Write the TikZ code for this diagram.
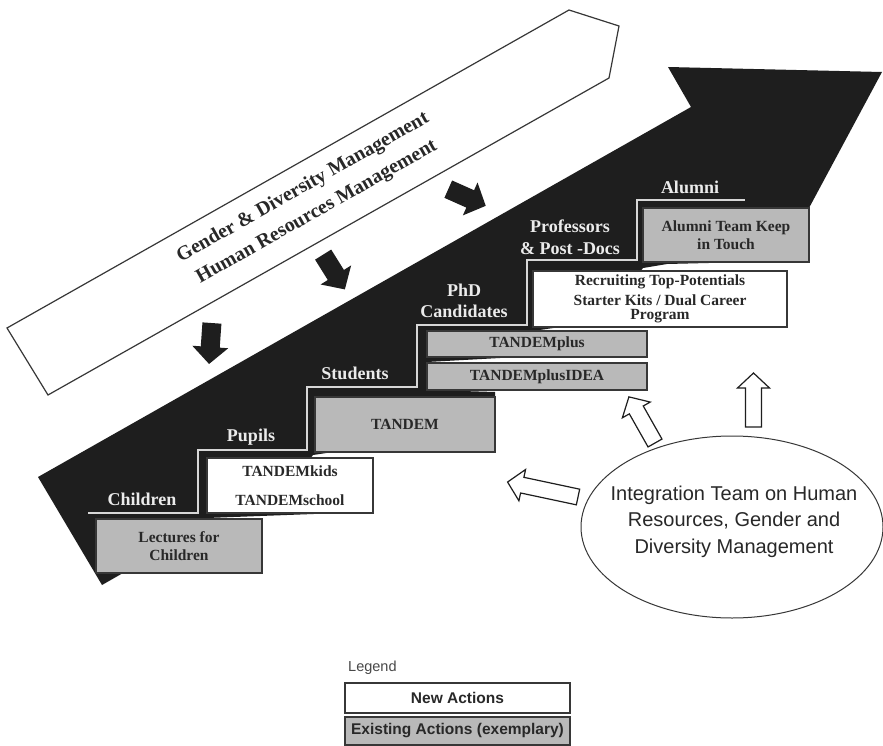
\documentclass[tikz,border=0pt]{standalone}
\usepackage{fontspec}
\setmainfont{Liberation Serif}
\newfontfamily\sansf{Liberation Sans}
\usetikzlibrary{shapes.geometric}
\definecolor{blk}{RGB}{30,30,30}
\definecolor{boxgray}{RGB}{185,185,185}
\definecolor{edge}{RGB}{55,55,55}
\definecolor{txt}{RGB}{40,40,40}
\definecolor{stair}{RGB}{215,215,215}
\definecolor{lbl}{RGB}{235,235,235}
\tikzset{
  actbox/.style={draw=edge, line width=1.6pt, inner sep=0pt, align=center, text=txt,
    font=\bfseries\fontsize{15.5}{18}\selectfont},
  newbox/.style={actbox, fill=white},
  oldbox/.style={actbox, fill=boxgray},
  steplabel/.style={text=lbl, font=\bfseries\fontsize{18}{21.5}\selectfont, align=center, inner sep=0pt},
  stairline/.style={draw=stair, line width=2pt},
  hollowarrow/.style={draw=blk, line width=1.2pt, fill=white, line join=miter},
  pics/solidarr/.style={code={\fill[blk] (-9.5,-20.5) -- (9.5,-20.5) -- (9.5,3.5) -- (18,3.5) -- (0,20.5) -- (-18,3.5) -- (-9.5,3.5) -- cycle;}},
  pics/hollowarr/.style={code={\draw[hollowarrow] (-8,0) -- (-8,-#1+15) -- (-16,-#1+15) -- (0,-#1) -- (16,-#1+15) -- (8,-#1+15) -- (8,0) -- cycle;}},
  legbox/.style={draw=edge, line width=1.5pt, inner sep=0pt, minimum width=225pt, text=txt,
    font=\sansf\bfseries\fontsize{15.5}{18}\selectfont}
}
\begin{document}
\begin{tikzpicture}[x=1pt,y=-1pt]
\useasboundingbox (0,0) rectangle (883,746);
\fill[white] (0,0) rectangle (883,746);

% big black staircase arrow
\fill[blk] (102,585) -- (38,477) -- (691,107) -- (668,67) -- (882,72) -- (809,208)
  -- (750,262) -- (667,264) -- (643,268) -- (640,272) -- (560,327) -- (533,331)
  -- (530,333) -- (500,358) -- (427,362) -- (430,365) -- (430,390) -- (495,392)
  -- (495,398) -- (333,452) -- (313,455) -- (310,459) -- (340,513) -- (207,518)
  -- (210,520) -- (123,573) -- cycle;

% stair line
\draw[stairline] (88,513) -- (198,513) -- (198,450) -- (307,450) -- (307,387)
  -- (417,387) -- (417,325) -- (527,325) -- (527,260) -- (637,260) -- (637,200) -- (745,200);

% action boxes
\node[oldbox, minimum width=166pt, minimum height=54pt] (lectures) at (179,546) {Lectures for\\Children};
\node[newbox, minimum width=166pt, minimum height=55pt] (kids) at (290,485.5) {TANDEMkids\\[11pt]TANDEMschool};
\node[oldbox, minimum width=180pt, minimum height=55pt] (tandem) at (405,424.5) {TANDEM};
\node[oldbox, minimum width=220pt, minimum height=27pt] (idea) at (537,376.5) {TANDEMplusIDEA};
\node[oldbox, minimum width=220pt, minimum height=26pt] (plus) at (537,344) {TANDEMplus};
\node[newbox, minimum width=254pt, minimum height=56pt] (recruit) at (660,299) {Recruiting Top-Potentials\\[2pt]Starter Kits / Dual Career\\[-4pt]Program};
\node[oldbox, minimum width=166pt, minimum height=54pt] (alumnibox) at (726,235) {Alumni Team Keep\\in Touch};

% step labels
\node[steplabel] (lchildren) at (142,499) {Children};
\node[steplabel] (lpupils) at (251,437) {Pupils};
\node[steplabel] (lstudents) at (355,373) {Students};
\node[steplabel] (lphd) at (464,301) {PhD\\Candidates};
\node[steplabel] (lprof) at (570,237.5) {Professors\\\& Post -Docs};
\node[steplabel] (lalumni) at (690,187) {Alumni};

% white band arrow
\draw[draw=edge, line width=1.2pt, fill=white] (7,328) -- (569,10) -- (619,26) -- (609,78) -- (48,395) -- cycle;
\node[rotate=29.5, text=txt, align=center, inner sep=0pt,
  font=\bfseries\fontsize{20}{28}\selectfont] (gdm) at (310,200)
  {Gender \& Diversity Management\\Human Resources Management};

% solid arrows
\pic[rotate=-4] (sa1) at (210.5,343.5) {solidarr};
\pic[rotate=32] (sa2) at (334,272) {solidarr};
\pic[rotate=66] (sa3) at (467,197.5) {solidarr};

% integration team ellipse
\node[ellipse, draw=edge, line width=1pt, minimum width=302pt, minimum height=182pt, inner sep=0pt] (team) at (732,527) {};
\node[text=txt, align=center, inner sep=0pt, font=\sansf\fontsize{20}{26.5}\selectfont] (teamtext) at (734,521.5)
  {Integration Team on Human\\Resources, Gender and\\Diversity Management};

% hollow arrows
\pic (ha1) at (753.5,427) {hollowarr=54};
\pic[rotate=29.5] (ha2) at (655,443) {hollowarr=53};
\pic[rotate=78] (ha3) at (578,497) {hollowarr=72};

% legend
\node[anchor=west, inner sep=0pt, text=txt!85, font=\sansf\fontsize{14.5}{17}\selectfont] (legend) at (348,668) {Legend};
\node[legbox, fill=white, minimum height=30pt] (newleg) at (457.5,698) {New Actions};
\node[legbox, fill=boxgray, minimum height=28pt] (oldleg) at (457.5,731) {Existing Actions (exemplary)};
\end{tikzpicture}
\end{document}
